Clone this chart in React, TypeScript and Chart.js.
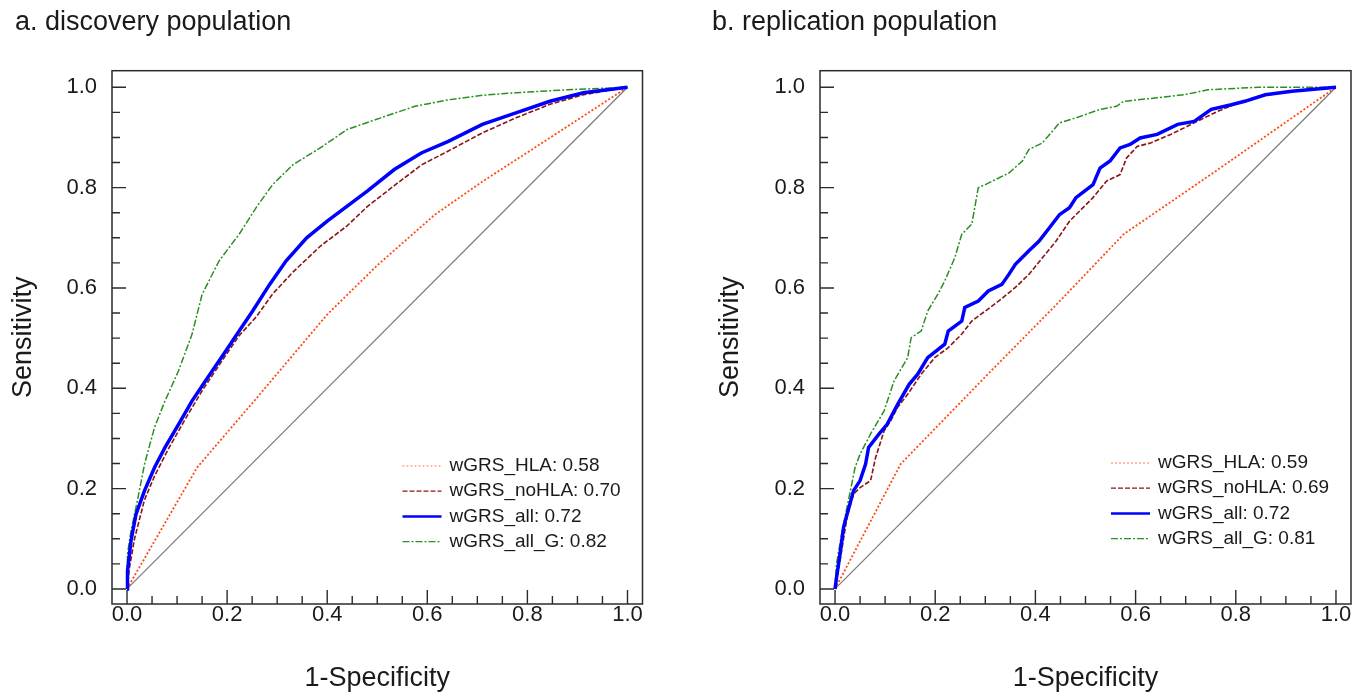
import React, { useEffect, useRef } from "react";
import { Chart, registerables } from "chart.js";

Chart.register(...registerables);

const FONT = "'Liberation Sans', Arial, Helvetica, sans-serif";
const TEXT = "#1a1a1a";

// ---- axis ticks ----
const tickValues = [0, 0.2, 0.4, 0.6, 0.8, 1.0];
const tickLabels = ["0.0", "0.2", "0.4", "0.6", "0.8", "1.0"];
const minorStep = 0.05;

// ---- legend ----
const seriesNames = ["wGRS_HLA", "wGRS_noHLA", "wGRS_all", "wGRS_all_G"];
const discoveryAUC = ["0.58", "0.70", "0.72", "0.82"];
const replicationAUC = ["0.59", "0.69", "0.72", "0.81"];

// ---- reference diagonal ----
const refX = [0, 1];
const refY = [0, 1];

// ---- a. discovery population ----
const dHLA_x = [0, 0.02, 0.14, 0.25, 0.4, 0.5, 0.615, 0.71, 0.8, 0.9, 1];
const dHLA_y = [0, 0.035, 0.242, 0.37, 0.547, 0.645, 0.746, 0.812, 0.87, 0.935, 1];

const dNo_x = [0, 0.005, 0.015, 0.035, 0.055, 0.082, 0.116, 0.15, 0.19, 0.224, 0.258, 0.291, 0.332, 0.386, 0.44, 0.48, 0.534, 0.588, 0.642, 0.71, 0.777, 0.845, 0.912, 1];
const dNo_y = [0, 0.043, 0.1, 0.178, 0.225, 0.278, 0.338, 0.395, 0.455, 0.505, 0.542, 0.588, 0.632, 0.683, 0.724, 0.762, 0.804, 0.845, 0.873, 0.909, 0.939, 0.966, 0.985, 1];

const dAll_x = [0, 0.001, 0.008, 0.018, 0.035, 0.055, 0.076, 0.103, 0.13, 0.157, 0.197, 0.224, 0.251, 0.285, 0.318, 0.359, 0.4, 0.44, 0.48, 0.534, 0.588, 0.642, 0.71, 0.777, 0.845, 0.912, 1];
const dAll_y = [0, 0.036, 0.096, 0.149, 0.196, 0.242, 0.282, 0.328, 0.375, 0.415, 0.474, 0.514, 0.554, 0.607, 0.654, 0.7, 0.733, 0.763, 0.793, 0.836, 0.869, 0.892, 0.926, 0.949, 0.972, 0.989, 1];

const dG_x = [0, 0.001, 0.008, 0.022, 0.035, 0.055, 0.076, 0.103, 0.13, 0.15, 0.184, 0.224, 0.258, 0.291, 0.332, 0.386, 0.44, 0.507, 0.575, 0.642, 0.71, 0.777, 0.879, 1];
const dG_y = [0, 0.07, 0.116, 0.182, 0.249, 0.322, 0.375, 0.435, 0.508, 0.587, 0.654, 0.707, 0.76, 0.806, 0.846, 0.879, 0.916, 0.939, 0.962, 0.975, 0.984, 0.989, 0.995, 1];

// ---- b. replication population ----
const rHLA_x = [0, 0.131, 0.306, 0.45, 0.576, 0.75, 1];
const rHLA_y = [0, 0.249, 0.429, 0.575, 0.707, 0.826, 1];

const rNo_x = [0, 0.01, 0.024, 0.037, 0.05, 0.071, 0.081, 0.098, 0.111, 0.125, 0.145, 0.172, 0.199, 0.226, 0.253, 0.273, 0.3, 0.327, 0.36, 0.387, 0.414, 0.441, 0.468, 0.495, 0.515, 0.542, 0.569, 0.582, 0.603, 0.63, 0.67, 0.697, 0.737, 0.764, 0.805, 0.845, 0.912, 1];
const rNo_y = [0, 0.056, 0.143, 0.189, 0.202, 0.216, 0.262, 0.315, 0.335, 0.362, 0.388, 0.428, 0.461, 0.481, 0.508, 0.534, 0.554, 0.574, 0.601, 0.627, 0.66, 0.693, 0.733, 0.76, 0.78, 0.813, 0.826, 0.859, 0.882, 0.889, 0.906, 0.919, 0.939, 0.952, 0.969, 0.982, 0.992, 1];

const rAll_x = [0, 0.003, 0.01, 0.017, 0.024, 0.037, 0.05, 0.061, 0.067, 0.088, 0.104, 0.125, 0.148, 0.165, 0.185, 0.219, 0.226, 0.253, 0.259, 0.286, 0.306, 0.333, 0.347, 0.36, 0.387, 0.407, 0.428, 0.448, 0.468, 0.481, 0.502, 0.515, 0.529, 0.549, 0.569, 0.589, 0.609, 0.643, 0.684, 0.717, 0.751, 0.791, 0.818, 0.859, 0.912, 1];
const rAll_y = [0, 0.023, 0.07, 0.123, 0.149, 0.196, 0.216, 0.249, 0.282, 0.309, 0.328, 0.368, 0.408, 0.428, 0.461, 0.488, 0.514, 0.534, 0.561, 0.574, 0.594, 0.607, 0.627, 0.647, 0.674, 0.693, 0.72, 0.746, 0.76, 0.78, 0.796, 0.806, 0.839, 0.853, 0.879, 0.886, 0.899, 0.906, 0.926, 0.932, 0.956, 0.965, 0.972, 0.985, 0.992, 1];

const rG_x = [0, 0.003, 0.013, 0.024, 0.04, 0.05, 0.071, 0.098, 0.118, 0.145, 0.152, 0.172, 0.185, 0.205, 0.219, 0.239, 0.253, 0.273, 0.286, 0.3, 0.347, 0.374, 0.387, 0.414, 0.448, 0.481, 0.529, 0.562, 0.576, 0.643, 0.697, 0.744, 0.845, 1];
const rG_y = [0, 0.05, 0.109, 0.163, 0.242, 0.269, 0.309, 0.355, 0.415, 0.461, 0.501, 0.514, 0.554, 0.587, 0.614, 0.66, 0.707, 0.727, 0.8, 0.806, 0.829, 0.853, 0.876, 0.889, 0.929, 0.939, 0.956, 0.962, 0.972, 0.979, 0.985, 0.995, 1, 1];

// ---- styles ----
const STYLES = [
  { color: "#ff4a12", width: 1.8, dash: [2, 2], order: 4 },
  { color: "#8b1414", width: 1.6, dash: [5, 2], order: 3 },
  { color: "#0000ff", width: 3.5, dash: [] as number[], order: 1 },
  { color: "#2a8f22", width: 1.5, dash: [7, 2, 2, 2], order: 2 },
];

const pts = (xs: number[], ys: number[]) => xs.map((x, i) => ({ x, y: ys[i] }));

type PanelProps = {
  left: number;
  width: number;
  title: string;
  auc: string[];
  series: [number[], number[]][];
  padLeft: number;
  padRight: number;
  yWidth: number;
  yTitlePad: number;
  legendTop: number;
};

function Panel(p: PanelProps) {
  const ref = useRef<HTMLCanvasElement | null>(null);

  useEffect(() => {
    if (!ref.current) return;

    const datasets: any[] = [
      {
        label: "reference",
        data: pts(refX, refY),
        borderColor: "#7a7a7a",
        borderWidth: 1.2,
        pointRadius: 0,
        order: 5,
      },
      ...p.series.map(([xs, ys], i) => ({
        label: seriesNames[i],
        data: pts(xs, ys),
        borderColor: STYLES[i].color,
        borderWidth: STYLES[i].width,
        borderDash: STYLES[i].dash,
        pointRadius: 0,
        tension: 0,
        order: STYLES[i].order,
      })),
    ];

    const framePlugin = {
      id: "frame",
      afterDatasetsDraw(chart: any) {
        const { ctx, chartArea: a, scales } = chart;
        ctx.save();
        ctx.strokeStyle = "#2b2b2b";
        ctx.lineWidth = 1.5;
        ctx.strokeRect(a.left, a.top, a.right - a.left, a.bottom - a.top);
        // inward ticks
        const n = Math.round(1 / minorStep);
        ctx.lineWidth = 1.4;
        for (let i = 0; i <= n; i++) {
          const v = i * minorStep;
          const major = i % 4 === 0;
          const len = major ? 14 : 8;
          const px = scales.x.getPixelForValue(v);
          const py = scales.y.getPixelForValue(v);
          ctx.beginPath();
          ctx.moveTo(px, a.bottom);
          ctx.lineTo(px, a.bottom - len);
          ctx.moveTo(a.left, py);
          ctx.lineTo(a.left + len, py);
          ctx.stroke();
        }
        // legend
        ctx.font = `19px ${FONT}`;
        ctx.textBaseline = "middle";
        ctx.textAlign = "left";
        for (let i = 0; i < seriesNames.length; i++) {
          const y = a.bottom + p.legendTop + i * 25.2;
          const s = STYLES[i];
          ctx.beginPath();
          ctx.strokeStyle = i === 0 ? "#ffa88a" : s.color;
          ctx.lineWidth = i === 2 ? 2.5 : 1.3;
          ctx.setLineDash(s.dash);
          ctx.moveTo(a.right - 240, y);
          ctx.lineTo(a.right - 201, y);
          ctx.stroke();
          ctx.setLineDash([]);
          ctx.fillStyle = TEXT;
          ctx.fillText(`${seriesNames[i]}: ${p.auc[i]}`, a.right - 193, y);
        }
        ctx.restore();
      },
    };

    const axisCommon = (title: string, titlePad: any) => ({
      type: "linear" as const,
      grid: { display: false, drawTicks: false },
      border: { display: false },
      afterBuildTicks: (scale: any) => {
        scale.ticks = tickValues.map((v) => ({ value: v }));
      },
      title: {
        display: true,
        text: title,
        color: TEXT,
        font: { family: FONT, size: 27, lineHeight: 1 },
        padding: titlePad,
      },
    });

    const chart = new Chart(ref.current, {
      type: "line",
      data: { datasets },
      options: {
        animation: false,
        responsive: false,
        maintainAspectRatio: false,
        devicePixelRatio: 1,
        layout: { padding: { left: p.padLeft, right: p.padRight, top: 0, bottom: 0 } },
        plugins: {
          legend: { display: false },
          tooltip: { enabled: false },
          title: {
            display: true,
            text: p.title,
            align: "start",
            color: TEXT,
            font: { family: FONT, size: 27, weight: "normal", lineHeight: 1.2 },
            padding: { top: 6.4, bottom: 31.9 },
          },
        },
        scales: {
          x: {
            ...axisCommon("1-Specificity", { top: 0, bottom: 3.5 }),
            min: -0.03,
            max: 1.03,
            afterFit: (s: any) => {
              s.height = 92;
            },
            ticks: {
              color: TEXT,
              padding: -2,
              maxRotation: 0,
              font: { family: FONT, size: 22 },
              callback: (_v: any, i: number) => tickLabels[i],
            },
          },
          y: {
            ...axisCommon("Sensitivity", { top: p.yTitlePad, bottom: 0 }),
            min: -0.03,
            max: 1.033,
            afterFit: (s: any) => {
              s.width = p.yWidth;
            },
            ticks: {
              color: TEXT,
              padding: 15,
              font: { family: FONT, size: 22 },
              callback: (_v: any, i: number) => tickLabels[i],
            },
          },
        },
      } as any,
      plugins: [framePlugin],
    });

    return () => chart.destroy();
  }, []);

  return (
    <canvas
      ref={ref}
      width={p.width}
      height={696}
      style={{ position: "absolute", left: p.left, top: 0, width: p.width, height: 696 }}
    />
  );
}

export default function App() {
  return (
    <div
      style={{
        position: "fixed",
        left: 0,
        top: 0,
        width: 1368,
        height: 696,
        background: "#ffffff",
        overflow: "hidden",
      }}
    >
      <Panel
        left={0}
        width={690}
        title="a. discovery population"
        auc={discoveryAUC}
        series={[
          [dHLA_x, dHLA_y],
          [dNo_x, dNo_y],
          [dAll_x, dAll_y],
          [dG_x, dG_y],
        ]}
        padLeft={15}
        padRight={47.5}
        yWidth={97}
        yTitlePad={-4.5}
        legendTop={-138}
      />
      <Panel
        left={700}
        width={668}
        title="b. replication population"
        auc={replicationAUC}
        series={[
          [rHLA_x, rHLA_y],
          [rNo_x, rNo_y],
          [rAll_x, rAll_y],
          [rG_x, rG_y],
        ]}
        padLeft={12}
        padRight={17}
        yWidth={108}
        yTitlePad={5.5}
        legendTop={-141}
      />
    </div>
  );
}
